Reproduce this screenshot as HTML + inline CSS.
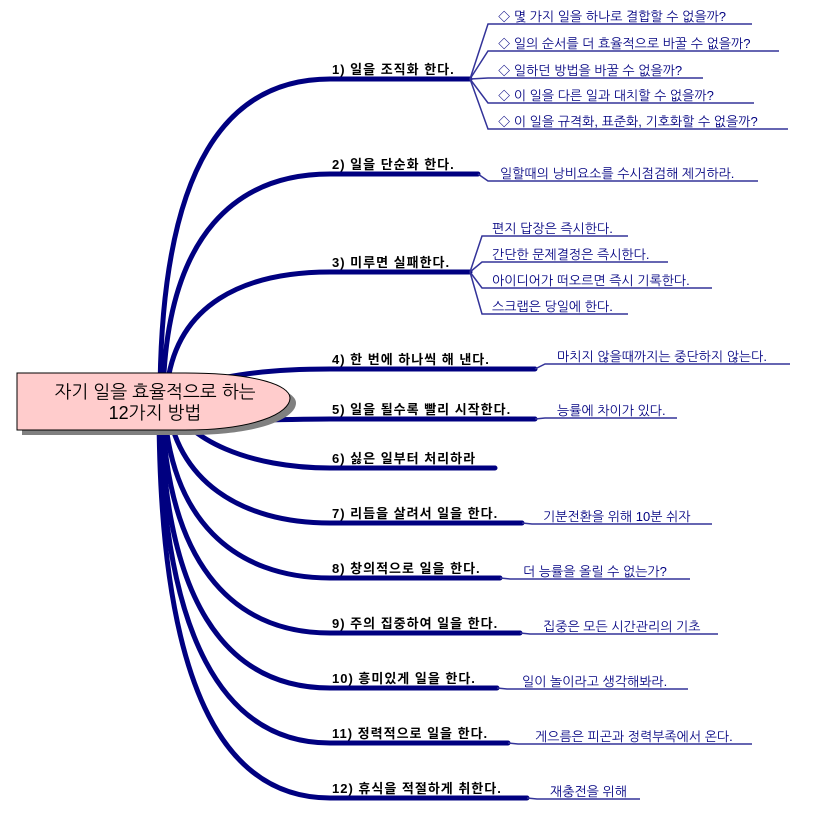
<!DOCTYPE html>
<html><head><meta charset="utf-8"><style>
html,body{margin:0;padding:0;background:#fff;}
svg{display:block;}
.m{font-family:"Liberation Sans","Noto Sans CJK KR",sans-serif;font-weight:bold;font-size:13px;letter-spacing:1px;fill:#000;}
.s{font-family:"Liberation Sans","NanumGothic","Noto Sans CJK KR",sans-serif;font-size:13px;fill:#000080;}
</style></head><body>
<svg width="826" height="822" viewBox="0 0 826 822" xmlns="http://www.w3.org/2000/svg">
<g fill="none" stroke="#000080" stroke-width="5" stroke-linecap="round">
<path d="M160,400 C160,160 230,79 330,79 L470,79"/>
<path d="M163,400 C165,230 240,174 330,174 L478,174"/>
<path d="M166,400 C170,300 250,272 330,272 L470,272"/>
<path d="M170,400 C190,380 250,369 330,369 L535,369"/>
<path d="M240,420 C280,420 300,419 330,419 L535,419"/>
<path d="M170,400 C185,440 250,468 330,468 L495,468"/>
<path d="M167,400 C175,480 240,523 330,523 L522,523"/>
<path d="M164,400 C168,520 235,578 330,578 L500,578"/>
<path d="M162,400 C165,560 230,633 330,633 L520,633"/>
<path d="M161,400 C162,600 225,688 330,688 L497,688"/>
<path d="M160,400 C160,640 225,743 330,743 L508,743"/>
<path d="M159,400 C158,690 225,798 330,798 L527,798"/>
</g>
<g fill="none" stroke="#333399" stroke-width="1.5">
<path d="M470,79 L488,24 L752,24"/><path d="M470,79 L488,51 L779,51"/><path d="M470,79 L488,78 L703,78"/>
<path d="M470,79 L488,103 L754,103"/><path d="M470,79 L488,129 L788,129"/>
<path d="M478,174 L488,181 L758,181"/>
<path d="M470,272 L482,236 L628,236"/><path d="M470,272 L482,262 L668,262"/><path d="M470,272 L482,288 L712,288"/><path d="M470,272 L482,314 L628,314"/>
<path d="M535,369 L545,364 L790,364"/>
<path d="M535,419 L545,418 L677,418"/>
<path d="M522,523 L532,524 L712,524"/>
<path d="M500,578 L510,579 L690,579"/>
<path d="M520,633 L530,634 L718,634"/>
<path d="M497,688 L507,689 L688,689"/>
<path d="M508,743 L518,744 L752,744"/>
<path d="M527,798 L537,799 L640,799"/>
</g>
<text class="m" x="332" y="74">1) 일을 조직화 한다.</text>
<text class="m" x="332" y="169">2) 일을 단순화 한다.</text>
<text class="m" x="332" y="267">3) 미루면 실패한다.</text>
<text class="m" x="332" y="364">4) 한 번에 하나씩 해 낸다.</text>
<text class="m" x="332" y="414">5) 일을 될수록 빨리 시작한다.</text>
<text class="m" x="332" y="463">6) 싫은 일부터 처리하라</text>
<text class="m" x="332" y="518">7) 리듬을 살려서 일을 한다.</text>
<text class="m" x="332" y="573">8) 창의적으로 일을 한다.</text>
<text class="m" x="332" y="628">9) 주의 집중하여 일을 한다.</text>
<text class="m" x="332" y="683">10) 흥미있게 일을 한다.</text>
<text class="m" x="332" y="738">11) 정력적으로 일을 한다.</text>
<text class="m" x="332" y="793">12) 휴식을 적절하게 취한다.</text>
<text class="s" x="498" y="21">◇ 몇 가지 일을 하나로 결합할 수 없을까?</text>
<text class="s" x="498" y="48">◇ 일의 순서를 더 효율적으로 바꿀 수 없을까?</text>
<text class="s" x="498" y="75">◇ 일하던 방법을 바꿀 수 없을까?</text>
<text class="s" x="498" y="100">◇ 이 일을 다른 일과 대치할 수 없을까?</text>
<text class="s" x="498" y="126">◇ 이 일을 규격화, 표준화, 기호화할 수 없을까?</text>
<text class="s" x="500" y="178">일할때의 낭비요소를 수시점검해 제거하라.</text>
<text class="s" x="492" y="233">편지 답장은 즉시한다.</text>
<text class="s" x="492" y="259">간단한 문제결정은 즉시한다.</text>
<text class="s" x="492" y="285">아이디어가 떠오르면 즉시 기록한다.</text>
<text class="s" x="492" y="311">스크랩은 당일에 한다.</text>
<text class="s" x="557" y="361">마치지 않을때까지는 중단하지 않는다.</text>
<text class="s" x="557" y="415">능률에 차이가 있다.</text>
<text class="s" x="543" y="521">기분전환을 위해 10분 쉬자</text>
<text class="s" x="523" y="576">더 능률을 올릴 수 없는가?</text>
<text class="s" x="543" y="631">집중은 모든 시간관리의 기초</text>
<text class="s" x="522" y="686">일이 놀이라고 생각해봐라.</text>
<text class="s" x="535" y="741">게으름은 피곤과 정력부족에서 온다.</text>
<text class="s" x="550" y="796">재충전을 위해</text>
<path d="M22,378 L190,378 C260,378 296,390 296,403 C296,418 260,435 190,435 L22,435 Z" fill="#808080"/>
<path d="M17,373 L185,373 C255,373 290,385 290,398 C290,413 255,430 185,430 L17,430 Z" fill="#ffcccc" stroke="#000" stroke-width="1"/>
<text x="155" y="398" text-anchor="middle" font-family="Liberation Sans,NanumGothic,Noto Sans CJK KR,sans-serif" font-size="18">자기 일을 효율적으로 하는</text>
<text x="155" y="419" text-anchor="middle" font-family="Liberation Sans,NanumGothic,Noto Sans CJK KR,sans-serif" font-size="18">12가지 방법</text>
</svg>
</body></html>
